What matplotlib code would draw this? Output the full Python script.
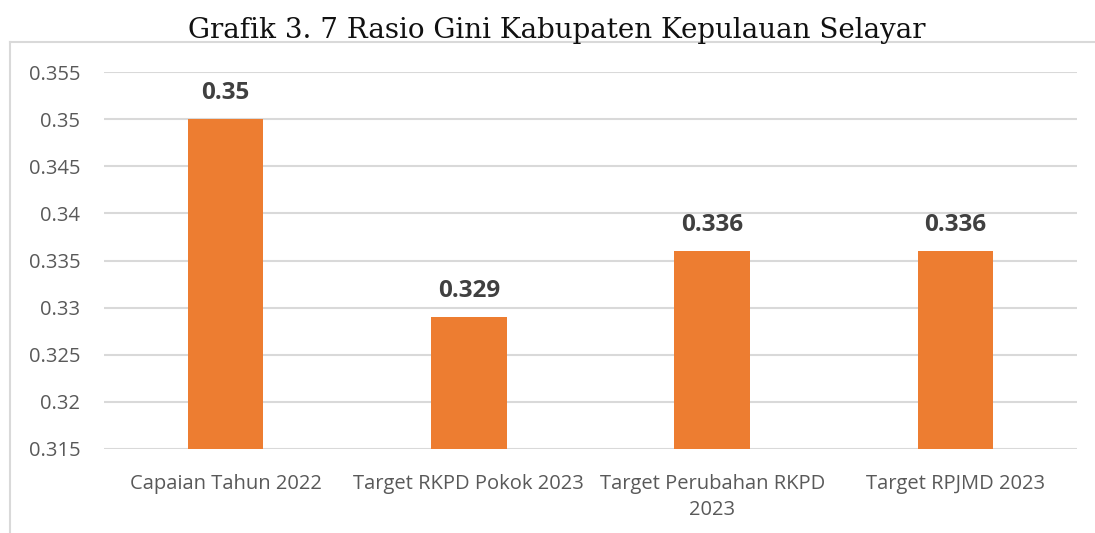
import matplotlib.pyplot as plt
from matplotlib.lines import Line2D

categories = ['Capaian Tahun 2022', 'Target RKPD Pokok 2023',
              'Target Perubahan RKPD\n2023', 'Target RPJMD 2023']
values = [0.35, 0.329, 0.336, 0.336]
value_labels = ['0.35', '0.329', '0.336', '0.336']
yticks = [0.315, 0.32, 0.325, 0.33, 0.335, 0.34, 0.345, 0.35, 0.355]
ytick_labels = ['0.315', '0.32', '0.325', '0.33', '0.335', '0.34', '0.345', '0.35', '0.355']

W, H = 1095, 533
fig = plt.figure(figsize=(W / 100, H / 100), dpi=100)
ax = fig.add_axes([104 / W, 1 - 449 / H, (1077 - 104) / W, (449 - 72) / H])

grid_color = '#d9d9d9'
text_color = '#595959'

# chart frame (light grey, left and top only visible)
fig.add_artist(Line2D([9.5 / W, 9.5 / W], [0, 1 - 42 / H], color=grid_color, lw=1.5))
fig.add_artist(Line2D([9.5 / W, 1], [1 - 42 / H, 1 - 42 / H], color=grid_color, lw=1.5))

x = range(len(categories))
ax.bar(x, values, width=0.31, color='#ED7D31', zorder=3)

for xi, v, lab in zip(x, values, value_labels):
    ax.annotate(lab, (xi, v), xytext=(0, 10), textcoords='offset points',
                ha='center', va='bottom', fontsize=17.5, fontweight='bold',
                color='#404040', family='Open Sans')

ax.set_xlim(-0.5, len(categories) - 0.5)
ax.set_ylim(0.315, 0.355)
ax.set_yticks(yticks)
ax.set_yticklabels(ytick_labels, fontsize=14.5, color=text_color, family='Open Sans')
ax.set_xticks(list(x))
ax.set_xticklabels(categories, fontsize=14.5, color=text_color, family='Open Sans',
                   linespacing=1.4)
ax.tick_params(axis='both', length=0)
ax.tick_params(axis='y', pad=17)
ax.tick_params(axis='x', pad=18)

ax.yaxis.grid(True, color=grid_color, lw=1.5, zorder=0)
ax.set_axisbelow(True)
for s in ax.spines.values():
    s.set_visible(False)

fig.text(557 / W, 1 - 30 / H, 'Grafik 3. 7 Rasio Gini Kabupaten Kepulauan Selayar',
         ha='center', va='center', fontsize=20, family='DejaVu Serif', color='#111111')

fig.savefig('out.png', dpi=100, facecolor='white')
